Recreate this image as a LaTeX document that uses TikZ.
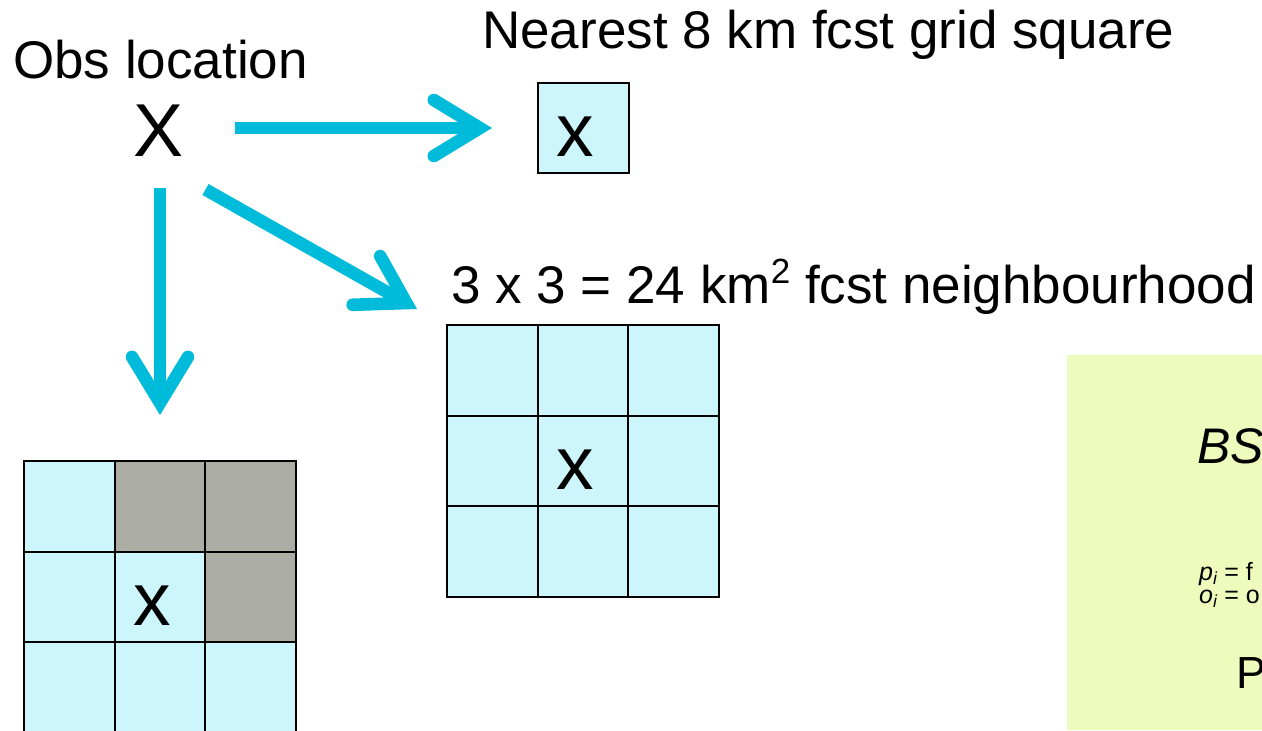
\documentclass[tikz,border=0pt]{standalone}
\usepackage{fontspec}
\setmainfont{Liberation Sans}
\usetikzlibrary{arrows.meta}
\definecolor{arr}{RGB}{0,188,218}
\definecolor{cellc}{RGB}{204,245,252}
\definecolor{cellg}{RGB}{171,173,165}
\definecolor{boxg}{RGB}{237,252,188}
\begin{document}
\begin{tikzpicture}[x=1pt,y=-1pt,
  conn/.style={draw=arr, line width=12.6pt,
    -{Straight Barb[length=46pt, width=56pt, line cap=round, line join=miter]}},
  cellbox/.style={draw=black, line width=1.8pt, fill=cellc, minimum size=90.67pt, inner sep=0pt, outer sep=0pt},
  greycell/.style={cellbox, fill=cellg},
  bigtxt/.style={font=\fontsize{53}{60}\selectfont, inner sep=0pt, anchor=base west},
  xmark/.style={font=\fontsize{75}{80}\selectfont, inner sep=0pt, anchor=base},
  smalltxt/.style={inner sep=0pt, anchor=base west, font=\fontsize{25}{26}\selectfont}]
\useasboundingbox (0,0) rectangle (1262,731);
\clip (0,0) rectangle (1262,731);
\fill[white] (0,0) rectangle (1262,731);

% texts
\node[bigtxt] (obslabel) at (13,78) {Obs location};
\node[xmark] (obs) at (159,156) {X};
\node[bigtxt] (nearlabel) at (482,48) {Nearest 8 km fcst grid square};
\node[bigtxt] (neighlabel) at (451,303) {3 x 3 = 24 km\raisebox{0.36em}{\fontsize{35}{35}\selectfont 2} fcst neighbourhood};

% nearest grid square
\node[cellbox] (sq) at (583.5,128) {};
\node[xmark] (sqx) at (575,156) {x};

% 3x3 neighbourhood
\foreach \r in {0,1,2}{
  \foreach \c in {0,1,2}{
    \node[cellbox] (n-\r-\c) at ({447+45.33+90.67*\c},{325+45.33+90.67*\r}) {};
  }
}
\node[xmark] (nx) at ([xshift=-8pt,yshift=-28pt]n-1-1.center) {x};

% bottom-left grid with grey cells
\foreach \r/\c/\s in {0/0/cellbox,0/1/greycell,0/2/greycell,1/0/cellbox,1/1/cellbox,1/2/greycell,2/0/cellbox,2/1/cellbox,2/2/cellbox}{
  \node[\s] (m-\r-\c) at ({24+45.33+90.67*\c},{461+45.33+90.67*\r}) {};
}
\node[xmark] (mx) at ([xshift=-8pt,yshift=-28pt]m-1-1.center) {x};

% arrows
\coordinate (hs) at (235,128);
\coordinate (ht) at (492,128);
\coordinate (ds) at (205.5,189.5);
\coordinate (dt) at (417,309);
\coordinate (vs) at (160,188);
\coordinate (vt) at (160,415);
\draw[conn] (hs) -- (ht);
\draw[conn] (ds) -- (dt);
\draw[conn] (vs) -- (vt);

% green box (cut off at the right)
\fill[boxg] (1067,355) rectangle (1320,730);
\node[inner sep=0pt, anchor=base west, font=\fontsize{50}{55}\selectfont\itshape] (bs) at (1197,463) {BS};
\node[smalltxt] (pi) at (1199,580) {{\itshape p}\textsubscript{\itshape i} = f};
\node[smalltxt] (oi) at (1199,603) {{\itshape o}\textsubscript{\itshape i} = o};
\node[inner sep=0pt, anchor=base west, font=\fontsize{45}{50}\selectfont] (pp) at (1236,688) {P};
\end{tikzpicture}
\end{document}
